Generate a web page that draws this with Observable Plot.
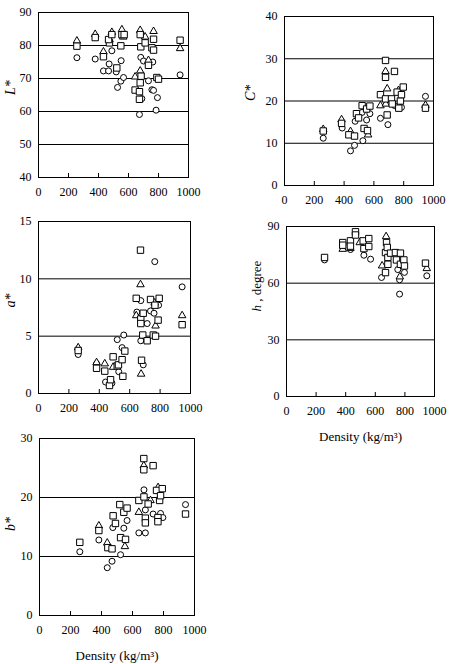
<!DOCTYPE html>
<html><head><meta charset="utf-8">
<script src="https://cdn.jsdelivr.net/npm/d3@7"></script>
<script src="https://cdn.jsdelivr.net/npm/@observablehq/plot@0.6"></script>
<style>
html,body{margin:0;padding:0;background:#fff;}
#chart{position:relative;width:455px;height:664px;overflow:hidden;background:#fff;}
#chart svg{position:absolute;}
</style></head><body><div id="chart"></div>
<script>
// x tick labels (density, kg/m3)
const xTicks = [0, 200, 400, 600, 800, 1000];

// L* panel: [density, value]
const L_circle = [[256,76.3],[378,75.9],[433,72.3],[467,72.3],[471,74.4],[489,78.4],[518,72],[527,67.3],[549,69.2],[551,75.4],[567,70.3],[682,76.4],[700,75.3],[689,63.9],[673,59.1],[733,69.3],[762,75],[756,66.6],[767,66.4],[793,64.2],[784,60.4],[944,71.1]];
const L_triangle = [[256,81.4],[378,83.4],[433,78.1],[473,81.8],[489,84],[556,84.8],[565,82.6],[644,70.5],[678,84.6],[678,72.3],[711,82.6],[733,75.5],[767,84.3],[944,79.1]];
const L_square = [[256,79.8],[378,82.4],[433,76.6],[473,80.8],[467,81.8],[489,83.3],[522,73.2],[549,79.9],[556,83.3],[571,83.3],[644,66.5],[678,83.3],[682,79.6],[684,70.7],[678,68.7],[673,66],[673,63.7],[711,80.8],[733,74],[756,79.3],[767,81.9],[767,78.6],[789,70.3],[800,69.8],[944,81.6]];

// C* panel
const C_circle = [[260,11.2],[387,13.6],[443,8.2],[470,9.5],[474,15.2],[521,17.3],[526,10.6],[551,15.5],[573,17],[644,15.9],[694,14.4],[740,18.9],[785,18.5],[946,21.1]];
const C_triangle = [[260,13.3],[383,15.6],[443,12.8],[561,12],[644,18.9],[678,27.0],[680,19.3],[689,22.9],[765,22.5],[946,19]];
const C_square = [[260,12.9],[383,14.7],[432,12.0],[470,11.7],[483,17],[497,16],[521,18.9],[534,13.5],[551,18.1],[557,13.0],[573,18.8],[644,21.5],[678,29.6],[678,25.6],[678,20.5],[689,16.7],[718,20.5],[723,19.3],[738,27],[756,22.1],[767,18.3],[778,20],[785,21.5],[797,23.3],[946,18.3]];

// a* panel
const a_circle = [[261,3.4],[382,2.6],[441,1.0],[483,0.9],[518,4.7],[528,1.9],[550,4.0],[561,5.1],[647,7.1],[673,8.1],[673,4.6],[689,2.5],[715,6.1],[737,7.2],[765,11.5],[760,7.0],[790,7.7],[945,9.3]];
const a_triangle = [[261,4.0],[382,2.7],[436,2.6],[491,2.3],[643,6.8],[671,9.5],[675,1.7],[764,7.9],[770,5.9],[945,6.8]];
const a_square = [[261,3.75],[382,2.2],[436,1.95],[467,0.7],[474,1.2],[491,3.2],[518,2.4],[526,2.5],[550,2.95],[555,1.5],[568,3.7],[643,8.3],[671,12.5],[673,6.5],[673,6.1],[678,2.9],[686,5.1],[689,7.0],[715,4.6],[737,8.2],[755,5.1],[766,7.7],[770,5.0],[787,6.4],[794,8.3],[945,6.0]];

// h panel
const h_circle = [[257,72.3],[380,79],[432,77.8],[523,74.8],[568,72.7],[642,63],[752,67.2],[764,61.8],[764,54.2],[797,65.7],[948,63.9]];
const h_triangle = [[380,78],[432,78.5],[495,81.5],[646,69.2],[673,84.7],[766,63.4],[948,67.8]];
const h_square = [[257,73.6],[380,81.5],[380,80.1],[432,82.4],[432,79.6],[466,87.2],[466,85.5],[518,82.4],[523,78.3],[556,83.6],[556,79.4],[669,76.2],[669,65.6],[676,81.5],[681,78.9],[685,73.6],[685,70],[703,75.9],[736,76.2],[743,72.3],[770,75.9],[770,70],[793,72.3],[797,69.1],[939,70.6]];

// b* panel
const b_circle = [[260,10.8],[383,12.8],[437,8.1],[468,9.2],[473,14.9],[523,10.3],[544,14.8],[565,16.1],[641,14],[674,21.3],[683,17.9],[683,14],[733,17.2],[781,17.3],[796,16.6],[942,18.8]];
const b_triangle = [[383,15.2],[437,12.3],[551,11.7],[641,17.5],[673,25.4],[716,19.5],[765,21.7]];
const b_square = [[260,12.4],[383,14.4],[441,11.5],[468,11.3],[475,16.9],[490,15.6],[518,18.8],[523,13.2],[544,17.5],[555,12.9],[565,18.2],[641,19.5],[673,26.6],[673,24.7],[674,20.1],[683,16.5],[683,15.7],[701,18.9],[733,25.4],[755,21.2],[764,16.6],[764,15.9],[775,19.5],[781,20.3],[792,21.5],[942,17.2]];

const chart = document.getElementById("chart");
const FONT = "'Liberation Serif', 'Times New Roman', serif";

function panel(cfg) {
  const innerH = cfg.height - cfg.mt - cfg.mb;
  const dotOpts = {x: d => d[0], y: d => d[1], stroke: "black", fill: "white", strokeWidth: 1};
  const marks = [
    Plot.ruleY(cfg.grid, {stroke: "black", strokeWidth: 1}),
    Plot.tickX(xTicks.slice(1, -1), {x: d => d, stroke: "black", insetTop: innerH - 4}),
    Plot.frame({stroke: "black", strokeWidth: 1}),
    Plot.axisX({ticks: xTicks, tickSize: 0, tickPadding: 10, label: null, tickFormat: d => String(d)}),
    Plot.axisY({ticks: cfg.yTicks, tickSize: 0, tickPadding: 7, label: null, tickFormat: d => String(d)}),
    Plot.dot(cfg.circle, {...dotOpts, symbol: "circle", r: 3}),
    Plot.dot(cfg.triangle, {...dotOpts, symbol: "triangle", r: 2.8}),
    Plot.dot(cfg.square, {...dotOpts, symbol: "square", r: 3.6}),
    Plot.text([cfg.ylabel], {text: d => d, frameAnchor: "left", rotate: -90, dx: cfg.ydx, dy: cfg.ydy || 0, fontSize: cfg.yfs || 14, fontStyle: cfg.yitalic ? "italic" : "normal"})
  ];
  if (cfg.xlabel) marks.push(Plot.text([cfg.xlabel], {text: d => d, frameAnchor: "bottom", dy: cfg.xdy, fontSize: 13}));
  const plot = Plot.plot({
    width: cfg.width, height: cfg.height,
    marginLeft: cfg.ml, marginRight: cfg.mr, marginTop: cfg.mt, marginBottom: cfg.mb,
    x: {domain: [0, 1000], label: null},
    y: {domain: cfg.yDomain, label: null},
    style: {fontFamily: FONT, fontSize: "12px", color: "black", background: "transparent", overflow: "visible"},
    marks
  });
  plot.style.left = cfg.left + "px";
  plot.style.top = cfg.top + "px";
  if (cfg.fix) cfg.fix(plot);
  chart.append(plot);
}

panel({left: 0, top: 0, width: 208, height: 205, ml: 38, mr: 20, mt: 12, mb: 28,
  yDomain: [40, 90], yTicks: [40, 50, 60, 70, 80, 90], grid: [50, 60, 70, 80],
  circle: L_circle, triangle: L_triangle, square: L_square, ylabel: "L*", yitalic: true, ydx: -28});

panel({left: 230, top: 0, width: 225, height: 207, ml: 54, mr: 22, mt: 16, mb: 22,
  yDomain: [0, 40], yTicks: [0, 10, 20, 30, 40], grid: [10, 20, 30],
  circle: C_circle, triangle: C_triangle, square: C_square, ylabel: "C*", yitalic: true, ydx: -34});

panel({left: 0, top: 205, width: 210, height: 216, ml: 38, mr: 20, mt: 16, mb: 28,
  yDomain: [0, 15], yTicks: [0, 5, 10, 15], grid: [5, 10],
  circle: a_circle, triangle: a_triangle, square: a_square, ylabel: "a*", yitalic: true, ydx: -28});

panel({left: 230, top: 207, width: 225, height: 239, ml: 56, mr: 21, mt: 19, mb: 50,
  yDomain: [0, 90], yTicks: [0, 30, 60, 90], grid: [30, 60],
  circle: h_circle, triangle: h_triangle, square: h_square, ylabel: "h , degree", yfs: 13, ydx: -30,
  xlabel: "Density (kg/m³)", xdy: 44,
  fix: (svg) => {
    for (const t of svg.querySelectorAll("text")) {
      if (t.textContent === "h , degree") {
        t.textContent = "";
        const ns = "http://www.w3.org/2000/svg";
        const a = document.createElementNS(ns, "tspan"); a.setAttribute("font-style", "italic"); a.textContent = "h";
        const b = document.createElementNS(ns, "tspan"); b.textContent = " , degree";
        t.append(a, b);
      }
    }
  }});

panel({left: 0, top: 421, width: 214, height: 243, ml: 39, mr: 20, mt: 17, mb: 49,
  yDomain: [0, 30], yTicks: [0, 10, 20, 30], grid: [10, 20],
  circle: b_circle, triangle: b_triangle, square: b_square, ylabel: "b*", yitalic: true, ydx: -29, ydy: 4,
  xlabel: "Density (kg/m³)", xdy: 44});
</script></body></html>
